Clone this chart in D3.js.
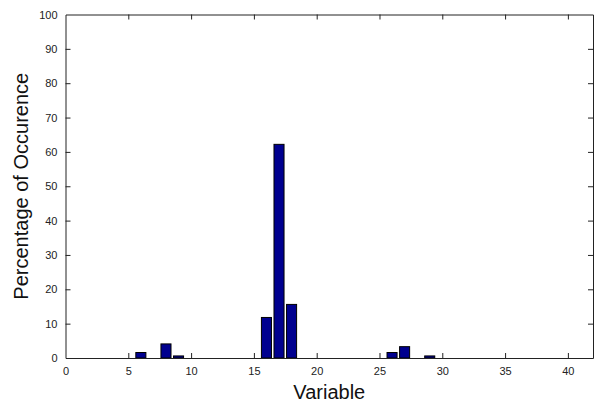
<!DOCTYPE html>
<html><head><meta charset="utf-8">
<script src="https://cdn.jsdelivr.net/npm/d3@7"></script>
<style>body{margin:0;background:#fff}svg{display:block}text{font-family:"Liberation Sans",Arial,sans-serif}</style>
</head><body>
<script>
const categories = [6, 8, 9, 16, 17, 18, 26, 27, 29];
const values = [1.6, 4.1, 0.6, 11.8, 62.2, 15.6, 1.6, 3.3, 0.6];
const xTicks = [0, 5, 10, 15, 20, 25, 30, 35, 40];
const yTicks = [0, 10, 20, 30, 40, 50, 60, 70, 80, 90, 100];

const W = 597, H = 407;
const m = {left: 65.5, right: 4, top: 14.5, bottom: 49};
const svg = d3.select("body").append("svg").attr("width", W).attr("height", H);
const x = d3.scaleLinear().domain([0, 42]).range([m.left, W - m.right]);
const y = d3.scaleLinear().domain([0, 100]).range([H - m.bottom, m.top]);
const tl = 5, col = "#222";

// bars
const bw = x(0.8) - x(0);
svg.append("g").selectAll("rect").data(categories).join("rect")
  .attr("x", (d) => x(d) - bw / 2)
  .attr("y", (d, i) => y(values[i]))
  .attr("width", bw)
  .attr("height", (d, i) => y(0) - y(values[i]))
  .attr("fill", "#00008F").attr("stroke", "#000").attr("stroke-width", 1);

// axes
const gx = svg.append("g").attr("transform", `translate(0,${y(0)})`)
  .call(d3.axisBottom(x).tickValues(xTicks).tickSizeInner(-tl).tickSizeOuter(0).tickPadding(9));
const gxt = svg.append("g").attr("transform", `translate(0,${y(100)})`)
  .call(d3.axisTop(x).tickValues(xTicks).tickSizeInner(-tl).tickSizeOuter(0).tickFormat(""));
const gy = svg.append("g").attr("transform", `translate(${x(0)},0)`)
  .call(d3.axisLeft(y).tickValues(yTicks).tickSizeInner(-tl).tickSizeOuter(0).tickPadding(8));
const gyr = svg.append("g").attr("transform", `translate(${x(42)},0)`)
  .call(d3.axisRight(y).tickValues(yTicks).tickSizeInner(-tl).tickSizeOuter(0).tickFormat(""));
[gx, gxt, gy, gyr].forEach(g => {
  g.selectAll("path").attr("stroke", col);
  g.selectAll("line").attr("stroke", col);
  g.selectAll("text").attr("font-size", 11).attr("fill", col).attr("font-family", '"Liberation Sans",Arial,sans-serif');
});
gx.selectAll(".tick").filter(d => d === 0).select("line").remove();
gxt.selectAll(".tick").filter(d => d === 0).select("line").remove();
gy.selectAll(".tick").filter(d => d === 0 || d === 100).select("line").remove();
gyr.selectAll(".tick").filter(d => d === 0 || d === 100).select("line").remove();

// labels
svg.append("text").attr("x", (x(0) + x(42)) / 2).attr("y", 399).attr("text-anchor", "middle")
  .attr("font-size", 20).attr("fill", "#111").text("Variable");
svg.append("text").attr("transform", `translate(28,${(y(0) + y(100)) / 2}) rotate(-90)`)
  .attr("text-anchor", "middle").attr("font-size", 20).attr("fill", "#111").text("Percentage of Occurence");
</script>
</body></html>
